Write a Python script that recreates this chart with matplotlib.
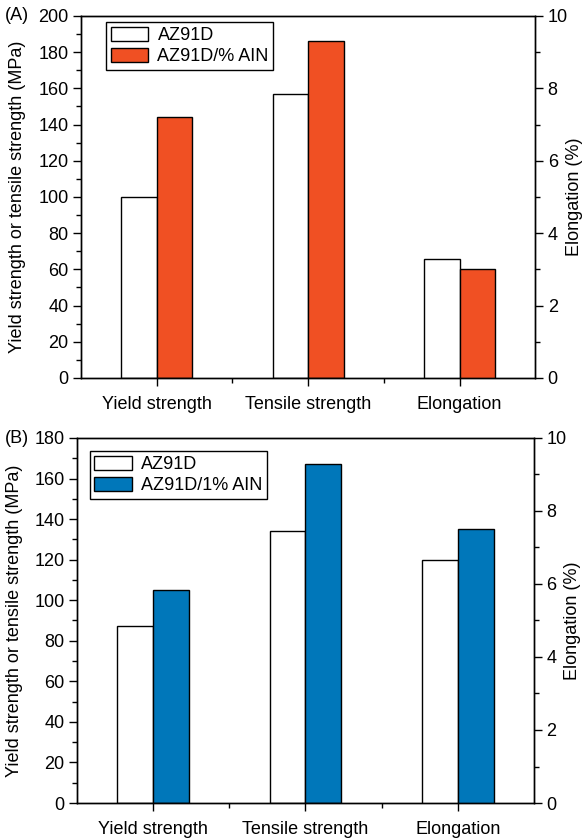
import numpy as np
import matplotlib.pyplot as plt
from matplotlib.ticker import MultipleLocator, FixedLocator

plt.rcParams['font.family'] = ['Liberation Sans', 'DejaVu Sans']
plt.rcParams['font.size'] = 13

categories = ["Yield strength", "Tensile strength", "Elongation"]

# Panel A (MPa for strength, % for elongation)
a_base_strength = [100, 157]
a_comp_strength = [144, 186]
a_base_elong = 3.3
a_comp_elong = 3.0
a_labels = ["AZ91D", "AZ91D/% AIN"]

# Panel B
b_base_strength = [87.5, 134]
b_comp_strength = [105, 167]
b_base_elong = 6.67
b_comp_elong = 7.5
b_labels = ["AZ91D", "AZ91D/1% AIN"]

RED = "#F05023"
BLUE = "#0077BA"
W = 0.235
FS = 13


def panel(ax, base_s, comp_s, base_e, comp_e, labels, color, ymax, leg_anchor, lab_x):
    x = np.arange(len(categories))
    ax2 = ax.twinx()
    h1 = ax.bar(x[:2] - W / 2, base_s, W, color="white", edgecolor="black", lw=1, label=labels[0])
    h2 = ax.bar(x[:2] + W / 2, comp_s, W, color=color, edgecolor="black", lw=1, label=labels[1])
    # elongation goes on the right-hand axis
    ax2.bar(x[2] - W / 2, base_e, W, color="white", edgecolor="black", lw=1)
    ax2.bar(x[2] + W / 2, comp_e, W, color=color, edgecolor="black", lw=1)

    ax.set_xlim(-0.5, 2.5)
    ax.set_ylim(0, ymax)
    ax2.set_ylim(0, 10)
    ax.set_xticks(x)
    ax.set_xticklabels(categories)
    ax.xaxis.set_minor_locator(FixedLocator([0.5, 1.5]))
    ax.yaxis.set_major_locator(MultipleLocator(20))
    ax.yaxis.set_minor_locator(MultipleLocator(10))
    ax2.yaxis.set_major_locator(MultipleLocator(2))
    ax2.yaxis.set_minor_locator(MultipleLocator(1))

    for a in (ax, ax2):
        a.tick_params(which="major", length=6, width=1, labelsize=FS, pad=3)
        a.tick_params(which="minor", length=3.5, width=1)
        for s in a.spines.values():
            s.set_linewidth(1)
    ax.tick_params(axis="x", which="major", pad=7)

    ax.set_ylabel("Yield strength or tensile strength (MPa)", fontsize=FS)
    ax2.set_ylabel("Elongation (%)", fontsize=FS)
    ax.yaxis.set_label_coords(lab_x[0], 0.5)
    ax2.yaxis.set_label_coords(lab_x[1], 0.5)

    leg = ax.legend(handles=[h1, h2], loc="upper left", bbox_to_anchor=leg_anchor,
                    fancybox=False, framealpha=1, edgecolor="black", fontsize=FS,
                    handlelength=2.1, handleheight=0.85, borderpad=0.25,
                    labelspacing=0.2, handletextpad=0.5, borderaxespad=0)
    leg.get_frame().set_linewidth(1)


fig = plt.figure(figsize=(5.83, 8.39), dpi=100)
ax_a = fig.add_axes([0.139, 0.5495, 0.779, 0.4315])
ax_b = fig.add_axes([0.132, 0.0429, 0.784, 0.4351])

panel(ax_a, a_base_strength, a_comp_strength, a_base_elong, a_comp_elong, a_labels, RED, 200,
      (0.055, 0.983), (-0.122, 1.068))
panel(ax_b, b_base_strength, b_comp_strength, b_base_elong, b_comp_elong, b_labels, BLUE, 180,
      (0.028, 0.964), (-0.117, 1.066))

fig.text(5 / 583, 1 - 16 / 839, "(A)", ha="left", va="center", fontsize=FS)
fig.text(5 / 583, 1 - 438 / 839, "(B)", ha="left", va="center", fontsize=FS)

fig.savefig("out.png", dpi=100)
